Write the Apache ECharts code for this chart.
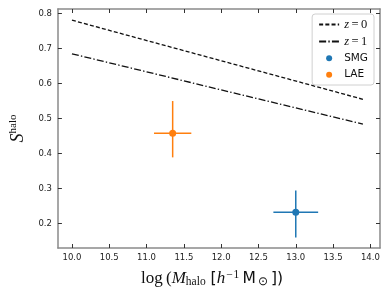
<!DOCTYPE html>
<html><head><meta charset="utf-8">
<script src="https://cdn.jsdelivr.net/npm/echarts@6/dist/echarts.min.js"></script>
<style>html,body{margin:0;padding:0;background:#fff}#c{width:390px;height:293px}</style>
</head><body><div id="c"></div>
<script>
// ---- data ----
const lineX = [10.0, 13.9];
const z0Values = [0.781, 0.555];
const z1Values = [0.685, 0.484];
const smgPoint = [13.0, 0.232];
const smgXErr = [0.3, 0.3];      // minus, plus
const smgYErr = [0.072, 0.062];  // minus, plus
const laePoint = [11.35, 0.458];
const laeXErr = [0.25, 0.25];
const laeYErr = [0.069, 0.092];
const xTicks = [10.0, 10.5, 11.0, 11.5, 12.0, 12.5, 13.0, 13.5, 14.0];
const yTicks = [0.2, 0.3, 0.4, 0.5, 0.6, 0.7, 0.8];
const xRange = [9.812, 14.129];
const yRange = [0.130, 0.813];

const BLUE = '#1f77b4', ORANGE = '#ff7f0e';
const SANS = 'DejaVu Sans', SERIF = 'Liberation Serif';
const spine = { show: true, lineStyle: { color: '#8a8a8a', width: 1.5 } };
const tickLab = { fontFamily: SANS, fontSize: 8.5, color: '#222' };

function errRow(p, xe, ye) { return [p[0], p[1], p[0] - xe[0], p[0] + xe[1], p[1] - ye[0], p[1] + ye[1]]; }

function errRender(color) {
  return function (params, api) {
    const l = api.coord([api.value(2), api.value(1)]);
    const r = api.coord([api.value(3), api.value(1)]);
    const b = api.coord([api.value(0), api.value(4)]);
    const t = api.coord([api.value(0), api.value(5)]);
    const st = { stroke: color, lineWidth: 1.5 };
    return { type: 'group', children: [
      { type: 'line', shape: { x1: l[0], y1: l[1], x2: r[0], y2: r[1] }, style: st },
      { type: 'line', shape: { x1: b[0], y1: b[1], x2: t[0], y2: t[1] }, style: st }
    ]};
  };
}

const chart = echarts.init(document.getElementById('c'), null, { renderer: 'canvas' });
chart.setOption({
  animation: false,
  backgroundColor: '#fff',
  grid: { left: 45, right: 10, top: 9, bottom: 43 },
  legend: {
    orient: 'vertical', right: 16, top: 14,
    backgroundColor: '#fff', borderColor: '#d0d0d0', borderWidth: 1, borderRadius: 3,
    padding: [4, 6, 4, 6], itemGap: 4, itemWidth: 20, itemHeight: 6, itemTextGap: 10,
    data: [
      { name: 'z=0', itemStyle: { opacity: 0 } },
      { name: 'z=1', itemStyle: { opacity: 0 } },
      { name: 'SMG', icon: 'circle' },
      { name: 'LAE', icon: 'circle' }
    ],
    formatter: function (n) {
      if (n === 'z=0') return '{i|z}{m|\u2009=\u20090}';
      if (n === 'z=1') return '{i|z}{m|\u2009=\u20091}';
      return '{s|' + n + '}';
    },
    textStyle: {
      color: '#111', lineHeight: 12.5,
      rich: {
        i: { fontFamily: SERIF, fontStyle: 'italic', fontSize: 12.5, color: '#111', lineHeight: 12.5 },
        m: { fontFamily: SERIF, fontSize: 12.5, color: '#111', lineHeight: 12.5 },
        s: { fontFamily: SANS, fontSize: 10.5, color: '#111', lineHeight: 12.5 }
      }
    }
  },
  xAxis: [
    {
      type: 'value', min: xRange[0], max: xRange[1], position: 'bottom',
      splitLine: { show: false }, axisLine: spine,
      axisTick: { inside: true, length: 4, customValues: xTicks, lineStyle: { color: '#333' } },
      axisLabel: { customValues: xTicks, formatter: v => v.toFixed(1), margin: 5, ...tickLab },
      name: '{lg|log}{p|\u2009(}{i|M}{sb|halo}{s| [}{i|h}{sp|\u2212\u200a1}{s|\u2009M}{sb2|\u2299}{s|\u2009])}',
      nameLocation: 'middle', nameGap: 21,
      nameTextStyle: {
        padding: [0, 14, 0, 0],
        rich: {
          lg: { fontFamily: SERIF, fontSize: 17, color: '#111' },
          p: { fontFamily: SERIF, fontSize: 17, color: '#111' },
          i: { fontFamily: SERIF, fontStyle: 'italic', fontSize: 17, color: '#111' },
          sb: { fontFamily: SERIF, fontSize: 11.5, color: '#111', padding: [6, 0, 0, 0] },
          sb2: { fontFamily: SERIF, fontSize: 11.5, color: '#111', padding: [6, 0, 0, 2] },
          sp: { fontFamily: SERIF, fontSize: 11.5, color: '#111', padding: [0, 0, 8, 1] },
          s: { fontFamily: SANS, fontSize: 15.5, color: '#111' }
        }
      }
    },
    {
      type: 'value', min: xRange[0], max: xRange[1], position: 'top',
      splitLine: { show: false }, axisLine: spine,
      axisTick: { inside: true, length: 4, customValues: xTicks, lineStyle: { color: '#333' } },
      axisLabel: { show: false }
    }
  ],
  yAxis: [
    {
      type: 'value', min: yRange[0], max: yRange[1], position: 'left',
      splitLine: { show: false }, axisLine: spine,
      axisTick: { inside: true, length: 4, customValues: yTicks, lineStyle: { color: '#333' } },
      axisLabel: { customValues: yTicks, formatter: v => v.toFixed(1), margin: 6, ...tickLab },
      name: '{S|S}{sp|halo}', nameLocation: 'middle', nameGap: 22, nameRotate: 90,
      nameTextStyle: {
        rich: {
          S: { fontFamily: SERIF, fontStyle: 'italic', fontSize: 18, color: '#111' },
          sp: { fontFamily: SERIF, fontSize: 11, color: '#111', padding: [0, 0, 10, 0] }
        }
      }
    },
    {
      type: 'value', min: yRange[0], max: yRange[1], position: 'right',
      splitLine: { show: false }, axisLine: spine,
      axisTick: { inside: true, length: 4, customValues: yTicks, lineStyle: { color: '#333' } },
      axisLabel: { show: false }
    }
  ],
  series: [
    {
      name: 'z=0', type: 'line', symbol: 'none', silent: true,
      data: lineX.map((x, i) => [x, z0Values[i]]),
      lineStyle: { color: '#111', width: 1.3, type: [4, 2.2] },
      itemStyle: { color: '#111' }
    },
    {
      name: 'z=1', type: 'line', symbol: 'none', silent: true,
      data: lineX.map((x, i) => [x, z1Values[i]]),
      lineStyle: { color: '#111', width: 1.3, type: [7, 2.2, 1.4, 2.2] },
      itemStyle: { color: '#111' }
    },
    {
      name: 'SMG', type: 'custom', renderItem: errRender(BLUE),
      data: [errRow(smgPoint, smgXErr, smgYErr)], itemStyle: { color: BLUE }, z: 3
    },
    {
      name: 'LAE', type: 'custom', renderItem: errRender(ORANGE),
      data: [errRow(laePoint, laeXErr, laeYErr)], itemStyle: { color: ORANGE }, z: 3
    },
    {
      name: 'SMG', type: 'scatter', symbolSize: 7, data: [smgPoint],
      itemStyle: { color: BLUE, opacity: 1 }, z: 4
    },
    {
      name: 'LAE', type: 'scatter', symbolSize: 7, data: [laePoint],
      itemStyle: { color: ORANGE, opacity: 1 }, z: 4
    }
  ]
});
</script>
</body></html>
